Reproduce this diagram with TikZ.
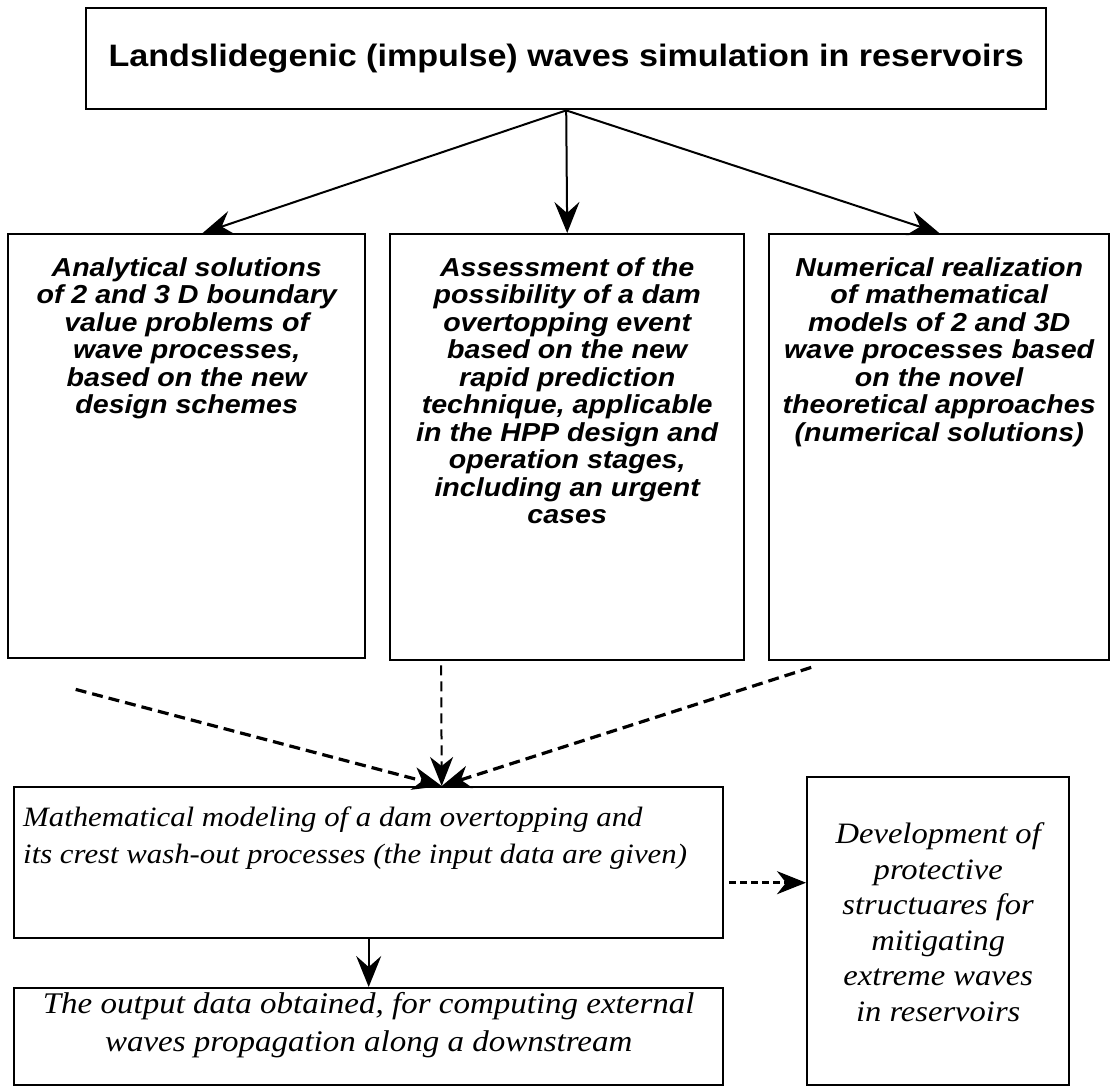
\documentclass[tikz,border=0pt]{standalone}
\usepackage{fontspec}
\setmainfont[FakeStretch=1.1]{Liberation Serif}
\setsansfont[FakeStretch=1.1]{Liberation Sans}
\usetikzlibrary{arrows.meta}
\newcommand{\toptext}[4]{\parbox[t][#1][t]{#2}{\centering\vspace*{#3}#4}}
\newcommand{\lefttext}[4]{\parbox[t][#1][t]{#2}{\raggedright\vspace*{#3}#4}}
\tikzset{
    common/.style={anchor=north west, draw, rectangle, line width=2.4pt, inner sep=0pt},
    headbox/.style={common, minimum width=960pt, minimum height=101pt, font=\sffamily\bfseries\fontsize{31}{36}\selectfont},
    tallbox/.style={common, font=\sffamily\bfseries\itshape\fontsize{26}{27.5}\selectfont},
    plainbox/.style={common, inner xsep=9pt, font=\itshape\fontsize{28}{37}\selectfont},
    solidarrow/.style={-{Stealth[length=31pt, width=25pt, inset=11pt]}, line width=2pt},
    dasharrow/.style={-{Stealth[length=29pt, width=23pt, inset=9pt]}, line width=3.2pt, dash pattern=on 11pt off 6pt},
    thindash/.style={dasharrow, line width=2pt, dash pattern=on 10pt off 6pt}
}

\begin{document}
\begin{tikzpicture}[x=1pt, y=-1pt]
    \useasboundingbox (0,0) rectangle (1110,1086);

    \node[headbox] (title) at (85,7) {Landslidegenic (impulse) waves simulation in reservoirs};

    \node[tallbox] (analyt) at (7,233) {\toptext{424pt}{357pt}{23pt}{%
        Analytical solutions\\ of 2 and 3 D boundary\\ value problems of\\ wave processes,\\ based on the new\\ design schemes}};
    \node[tallbox] (assess) at (389,233) {\toptext{426pt}{354pt}{23pt}{%
        Assessment of the\\ possibility of a dam\\ overtopping event\\ based on the new\\ rapid prediction\\ technique, applicable\\ in the HPP design and\\ operation stages,\\ including an urgent\\ cases}};
    \node[tallbox] (numer) at (768,233) {\toptext{426pt}{340pt}{23pt}{%
        Numerical realization\\ of mathematical\\ models of 2 and 3D\\ wave processes based\\ on the novel\\ theoretical approaches\\ (numerical solutions)}};

    \node[plainbox] (modeling) at (13,786) {\lefttext{151pt}{691pt}{19.5pt}{%
        Mathematical modeling of a dam overtopping and\\ its crest wash-out processes (the input data are given)}};
    \node[plainbox, font=\itshape\fontsize{30}{38}\selectfont] (output) at (13,987) {\toptext{97pt}{691pt}{4.5pt}{%
        The output data obtained, for computing external\\ waves propagation along a downstream}};
    \node[plainbox, inner xsep=0pt, font=\itshape\fontsize{29.6}{35.6}\selectfont] (protect) at (806,776) {\toptext{308pt}{262pt}{45.5pt}{%
        Development of\\ protective\\ structuares for\\ mitigating\\ extreme waves\\ in reservoirs}};

    \coordinate (meet) at ([xshift=73pt]modeling.north);

    % from the title down to the three approaches
    \draw[solidarrow] (title.south) -- ([xshift=16pt]analyt.north);
    \draw[solidarrow] (title.south) -- (assess.north);
    \draw[solidarrow] (title.south) -- (numer.north);

    % approaches feed the dam model
    \draw[dasharrow] ([xshift=-111pt, yshift=-30pt]analyt.south) -- (meet);
    \draw[thindash] ([xshift=-126pt, yshift=-4pt]assess.south) -- (meet);
    \draw[dasharrow] ([xshift=-128pt, yshift=-6pt]numer.south) -- (meet);

    \draw[solidarrow] (modeling.south) -- (output.north);
    \draw[dasharrow, line width=2.5pt, dash pattern=on 7pt off 4pt] ([xshift=5pt, yshift=-20pt]modeling.east) -- ([yshift=-20pt]modeling.east -| protect.west);
\end{tikzpicture}
\end{document}
